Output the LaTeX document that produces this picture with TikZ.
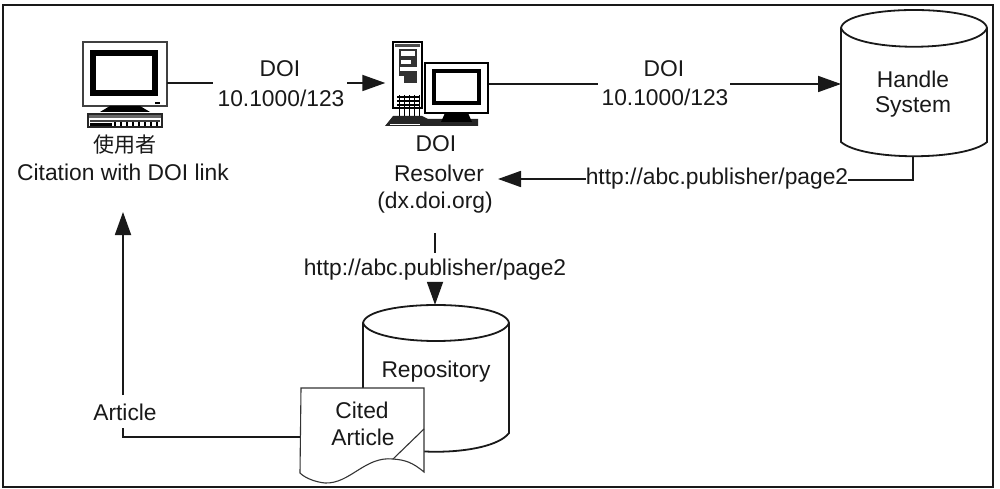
\documentclass[tikz,border=0pt]{standalone}
\usepackage{fontspec}
\setmainfont{Liberation Sans}
\newfontfamily\cjk{Noto Sans CJK TC}[Scale=1]
\usetikzlibrary{arrows.meta}
\tikzset{
  txt/.style={font=\fontsize{22.8}{26}\selectfont,inner sep=0pt,text=black!90},
  ln/.style={line width=1.8pt,black!90},
  thin ln/.style={line width=1.2pt,black!75},
  arr/.style={ln,-{Triangle[length=23pt,width=16pt]}},
  anchorbox/.style={inner sep=0pt,draw=none}
}
\begin{document}
\begin{tikzpicture}[x=1pt,y=-1pt]
\useasboundingbox (0,0) rectangle (1000,489);
\fill[white] (0,0) rectangle (1000,489);
\draw[ln] (3,5) rectangle (993,487);

% user computer
\node[anchorbox,minimum width=84pt,minimum height=64pt] (user) at (125,74) {};
\draw[thin ln,line width=1.5pt] (83,42) rectangle (167,106);
\draw[black,line width=5.5pt] (93,53) rectangle (155,93);
\fill[black] (155,102) rectangle (160,104);
\fill[black] (100,112) -- (110,106) -- (140,106) -- (150,112) -- cycle;
\draw[black!85,line width=1.3pt,fill=white] (88,114) rectangle (162,127);
\fill[black!60] (89,115) rectangle (161,118);
\fill[black!75] (90,120) rectangle (160,122);
\fill[black] (90,123) rectangle (112,126);
\foreach \k in {114,120,...,160}{\fill[black] (\k,122) rectangle +(2,4);}

% server and monitor
\node[anchorbox,minimum width=103pt,minimum height=86pt] (resolver) at (437,83) {};
\draw[black,line width=1.6pt,fill=white] (393,42) rectangle (422,108);
\fill[black!70] (395,44) rectangle (420,47);
\fill[black!80] (399,49) rectangle (417,88);
\fill[white] (401,51) rectangle (415,56);
\fill[white] (401,60) rectangle (411,64);
\fill[white] (400,67) rectangle (417,71);
\fill[white] (398,76) rectangle (404,88);
\fill[white] (398,83) rectangle (417,93);
\draw[black,line width=1.2pt] (397,97) -- (420,97) (397,101) -- (420,101) (397,105) -- (420,105);
\foreach \k in {399,404,...,419}{\draw[black,line width=1pt] (\k,95) -- (\k,116);}
\fill[black!85] (385,126) -- (393,116) -- (422,116) -- (428,119) -- (478,119) -- (478,126) -- cycle;
\fill[white] (390,124) rectangle (420,125);
\draw[black,line width=1.5pt,fill=white] (425,63) rectangle (488,113);
\draw[black,line width=4pt] (434,71) rectangle (479,103);
\fill[black] (445,113) -- (441,122) -- (472,122) -- (468,113) -- cycle;

% Handle cylinder
\node[anchorbox,minimum width=146pt,minimum height=146pt] (handle) at (914,83.5) {};
\draw[ln,fill=white] (841,28) .. controls (845,4) and (983,4) .. (987,28)
  -- (987,142) .. controls (965,161) and (863,161) .. (841,142) -- cycle;
\draw[ln] (841,28) .. controls (850,53) and (978,53) .. (987,28);

% Repository cylinder
\node[anchorbox,minimum width=146pt,minimum height=148pt] (repo) at (436,379) {};
\draw[ln,fill=white] (363,323) .. controls (367,299) and (505,299) .. (509,323)
  -- (509,433) .. controls (490,458) and (382,458) .. (363,433) -- cycle;
\draw[ln] (363,323) .. controls (372,347) and (500,347) .. (509,323);

% document
\node[anchorbox,minimum width=124pt,minimum height=96pt] (doc) at (362,436) {};
\draw[black!80,line width=1.1pt,fill=white] (301,388) -- (424,388) -- (424,472)
  .. controls (412,462) and (405,460) .. (393,459)
  .. controls (365,456) and (350,484) .. (325,483)
  .. controls (315,482) and (305,478) .. (300,473) -- cycle;
\draw[black!80,line width=1.1pt] (424,429) -- (393,459);

% labels
\node[txt] (doia) at (280,69) {DOI};
\node[txt] (numa) at (281,98) {10.1000/123};
\node[txt] (doib) at (664,69) {DOI};
\node[txt] (numb) at (665,97) {10.1000/123};
\node[txt] (usr) at (125,145) {\cjk\fontsize{21}{24}\selectfont 使用者};
\node[txt] (cit) at (123,172) {Citation with DOI link};
\node[txt] (res1) at (436,144) {DOI};
\node[txt] (res2) at (439,173) {Resolver};
\node[txt] (res3) at (435,203) {(dx.doi.org)};
\node[txt] (urla) at (717,179) {http://abc.publisher/page2};
\node[txt] (urlb) at (435,270) {http://abc.publisher/page2};
\node[txt] (hs1) at (913,79) {Handle};
\node[txt] (hs2) at (913,107) {System};
\node[txt] (rep) at (436,372) {Repository};
\node[txt] (ci1) at (362,410) {Cited};
\node[txt] (ci2) at (363,437) {Article};
\node[txt] (art) at (125,412) {Article};

% connectors
\coordinate (ub) at (213,83);
\coordinate (uc) at (347,83);
\coordinate (rb) at (598,84);
\coordinate (rc) at (730,84);
\coordinate (ha) at (841,84);
\coordinate (hc) at (913,180);
\coordinate (rt) at (498,179);
\coordinate (ut) at (123,212);
\coordinate (ud) at (123,395);
\coordinate (ue) at (123,428);
\coordinate (corner) at (123,437);
\coordinate (da) at (435,233);
\coordinate (db) at (435,253);
\coordinate (dc) at (435,283);
\draw[ln] (user.east |- ub) -- (ub);
\draw[arr] (uc) -- (resolver.west |- uc);
\draw[ln] (resolver.east |- rb) -- (rb);
\draw[arr] (rc) -- (ha);
\draw[ln] (handle.south -| hc) -- (hc) -- (urla.east |- hc);
\draw[arr] (urla.west |- rt) -- (rt);
\draw[ln] (da) -- (db);
\draw[arr] (dc) -- (repo.north -| dc);
\draw[arr] (ud) -- (ut);
\draw[ln] (doc.west |- corner) -- (corner) -- (ue);
\end{tikzpicture}
\end{document}
